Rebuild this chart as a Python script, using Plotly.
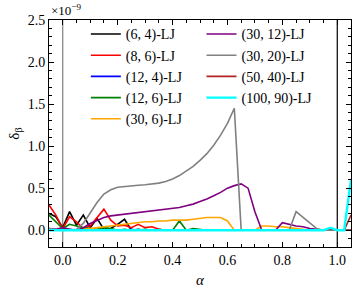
import plotly.graph_objects as go

alpha = [round(-0.05 + 0.025 * i, 4) for i in range(45)]

labels = ["(6, 4)-LJ", "(8, 6)-LJ", "(12, 4)-LJ", "(12, 6)-LJ", "(30, 6)-LJ",
          "(30, 12)-LJ", "(30, 20)-LJ", "(50, 40)-LJ", "(100, 90)-LJ"]
colors = ["#000000", "#ff0000", "#0000ff", "#008000", "#ffa500",
          "#800080", "#808080", "#b22222", "#00ffff"]

lj_6_4 = [0.20, 0.16, 0.03, 0.22, 0.06, 0.18, 0.03, 0.14, 0.01, 0.02, 0.07, 0.13, 0.00,
          0.01, 0.00, 0.00, 0.01, 0.00, 0.00, 0.00, 0.00, 0.00, 0.00, 0.00, 0.00,
          0.00, 0.00, 0.00, 0.00, 0.00, 0.00, 0.00, 0.00, 0.00, 0.00, 0.00, 0.00,
          0.00, 0.00, 0.00, 0.00, 0.00, 0.00, 0.00, 0.00]
lj_8_6 = [0.30, 0.18, 0.02, 0.16, 0.10, 0.02, 0.05, 0.15, 0.25, 0.12, 0.05, 0.06, 0.03,
          0.07, 0.03, 0.04, 0.01, 0.00, 0.00, 0.00, 0.00, 0.00, 0.00, 0.00, 0.00,
          0.00, 0.00, 0.00, 0.00, 0.00, 0.00, 0.00, 0.00, 0.00, 0.00, 0.00, 0.00,
          0.00, 0.00, 0.00, 0.00, 0.01, 0.00, 0.00, 0.00]
lj_12_4 = [0.00, 0.01, 0.00, 0.01, 0.00, 0.00, 0.01, 0.00, 0.00, 0.01, 0.00, 0.00, 0.01,
           0.00, 0.00, 0.00, 0.00, 0.00, 0.00, 0.00, 0.00, 0.00, 0.00, 0.00, 0.00,
           0.00, 0.00, 0.00, 0.00, 0.00, 0.00, 0.00, 0.00, 0.00, 0.00, 0.00, 0.00,
           0.00, 0.00, 0.00, 0.00, 0.00, 0.00, 0.00, 0.00]
lj_12_6 = [0.18, 0.10, 0.02, 0.07, 0.05, 0.03, 0.02, 0.01, 0.03, 0.02, 0.00, 0.01, 0.00,
           0.00, 0.01, 0.00, 0.00, 0.00, 0.00, 0.11, 0.00, 0.02, 0.01, 0.00, 0.00,
           0.00, 0.00, 0.00, 0.00, 0.00, 0.00, 0.00, 0.00, 0.00, 0.00, 0.00, 0.00,
           0.00, 0.00, 0.00, 0.00, 0.00, 0.00, 0.00, 0.00]
lj_30_6 = [0.00, 0.00, 0.00, 0.00, 0.00, 0.01, 0.02, 0.03, 0.04, 0.05, 0.06, 0.07, 0.08,
           0.09, 0.10, 0.10, 0.11, 0.11, 0.12, 0.12, 0.12, 0.13, 0.14, 0.15, 0.15,
           0.15, 0.11, 0.00, 0.00, 0.00, 0.00, 0.05, 0.05, 0.04, 0.04, 0.03, 0.02,
           0.01, 0.00, 0.00, 0.00, 0.00, 0.00, 0.00, 0.00]
lj_30_12 = [0.02, 0.01, 0.03, 0.01, 0.00, 0.03, 0.08, 0.12, 0.15, 0.17, 0.18, 0.19, 0.20,
            0.21, 0.22, 0.23, 0.24, 0.25, 0.26, 0.27, 0.29, 0.31, 0.34, 0.37, 0.41,
            0.45, 0.50, 0.53, 0.55, 0.50, 0.22, 0.00, 0.00, 0.00, 0.09, 0.07, 0.05,
            0.04, 0.02, 0.01, 0.00, 0.00, 0.00, 0.00, 0.00]
lj_30_20 = [0.02, 0.01, 0.00, 0.00, 0.01, 0.08, 0.20, 0.33, 0.43, 0.48, 0.51, 0.52, 0.53,
            0.535, 0.54, 0.55, 0.56, 0.58, 0.61, 0.65, 0.70, 0.76, 0.83, 0.91, 1.01,
            1.13, 1.27, 1.45, 0.00, 0.00, 0.00, 0.00, 0.00, 0.00, 0.00, 0.00, 0.22,
            0.15, 0.08, 0.02, 0.00, 0.00, 0.00, 0.00, 0.00]
lj_50_40 = [0.00, 0.00, 0.00, 0.00, 0.00, 0.00, 0.00, 0.00, 0.00, 0.00, 0.00, 0.00, 0.00,
            0.00, 0.00, 0.00, 0.00, 0.00, 0.00, 0.00, 0.00, 0.00, 0.00, 0.00, 0.00,
            0.00, 0.00, 0.00, 0.00, 0.00, 0.00, 0.00, 0.00, 0.00, 0.00, 0.00, 0.00,
            0.00, 0.00, 0.00, 0.00, 0.02, 0.00, 0.00, 0.18]
lj_100_90 = [0.00, 0.00, 0.00, 0.00, 0.00, 0.00, 0.00, 0.00, 0.00, 0.00, 0.00, 0.00, 0.00,
             0.00, 0.00, 0.00, 0.00, 0.00, 0.00, 0.00, 0.00, 0.00, 0.00, 0.00, 0.00,
             0.00, 0.00, 0.00, 0.00, 0.00, 0.00, 0.00, 0.00, 0.00, 0.00, 0.00, 0.00,
             0.00, 0.00, 0.00, 0.00, 0.03, 0.00, 0.00, 0.60]

series = [lj_6_4, lj_8_6, lj_12_4, lj_12_6, lj_30_6, lj_30_12, lj_30_20, lj_50_40, lj_100_90]
widths = [1.6, 1.6, 1.6, 1.6, 1.6, 1.6, 1.6, 1.6, 2.4]

x_ticks = [0.0, 0.2, 0.4, 0.6, 0.8, 1.0]
y_ticks = [0.0, 0.5, 1.0, 1.5, 2.0, 2.5]
vlines = [(0.0, "#808080"), (1.0, "#000000")]

FONT = "Liberation Serif, Times New Roman, serif"

fig = go.Figure()
for i, (lab, col, ys, w) in enumerate(zip(labels, colors, series, widths)):
    fig.add_trace(go.Scatter(
        x=alpha, y=ys, mode="lines", name=lab,
        line=dict(color=col, width=w),
        legend="legend" if i < 5 else "legend2",
    ))

for xv, col in vlines:
    fig.add_shape(type="line", xref="x", yref="paper", x0=xv, x1=xv, y0=0, y1=1,
                  line=dict(color=col, width=1.2), layer="below")

axis_common = dict(
    showline=True, linecolor="black", linewidth=1, mirror="ticks",
    ticks="inside", ticklen=5, tickwidth=1, tickcolor="black",
    showgrid=False, zeroline=False, automargin=False,
    tickfont=dict(family=FONT, size=14, color="black"),
    tickformat=".1f",
)

fig.update_layout(
    width=357, height=289,
    margin=dict(l=49, r=6, t=20, b=42),
    plot_bgcolor="white", paper_bgcolor="white",
    font=dict(family=FONT, size=14, color="black"),
    xaxis=dict(range=[-0.05, 1.05], tickvals=x_ticks,
               minor=dict(dtick=0.05, tick0=0, ticks="inside", ticklen=3, tickcolor="black"),
               title=dict(text="<i>α</i>", font=dict(family=FONT, size=15), standoff=7),
               **axis_common),
    yaxis=dict(range=[-0.2, 2.5], tickvals=y_ticks,
               minor=dict(dtick=0.1, tick0=0, ticks="inside", ticklen=3, tickcolor="black"),
               title=dict(text="δ<sub>β</sub>", font=dict(family=FONT, size=15), standoff=4),
               **axis_common),
    legend=dict(x=0.122, y=1.007, xanchor="left", yanchor="top",
                bgcolor="rgba(0,0,0,0)", font=dict(family=FONT, size=14),
                tracegroupgap=0),
    legend2=dict(x=0.505, y=1.007, xanchor="left", yanchor="top",
                 bgcolor="rgba(0,0,0,0)", font=dict(family=FONT, size=14),
                 tracegroupgap=0),
    annotations=[dict(text="×10<sup>−9</sup>", xref="paper", yref="paper",
                      x=0.0, y=1.0, xanchor="left", yanchor="bottom",
                      showarrow=False, font=dict(family=FONT, size=13))],
)

fig.write_html("out.html", config={"displayModeBar": False})
with open("out.html", "r", encoding="utf-8") as f:
    html = f.read()
html = html.replace("<body>", '<body style="margin:0;padding:0;overflow:hidden">', 1)
with open("out.html", "w", encoding="utf-8") as f:
    f.write(html)
